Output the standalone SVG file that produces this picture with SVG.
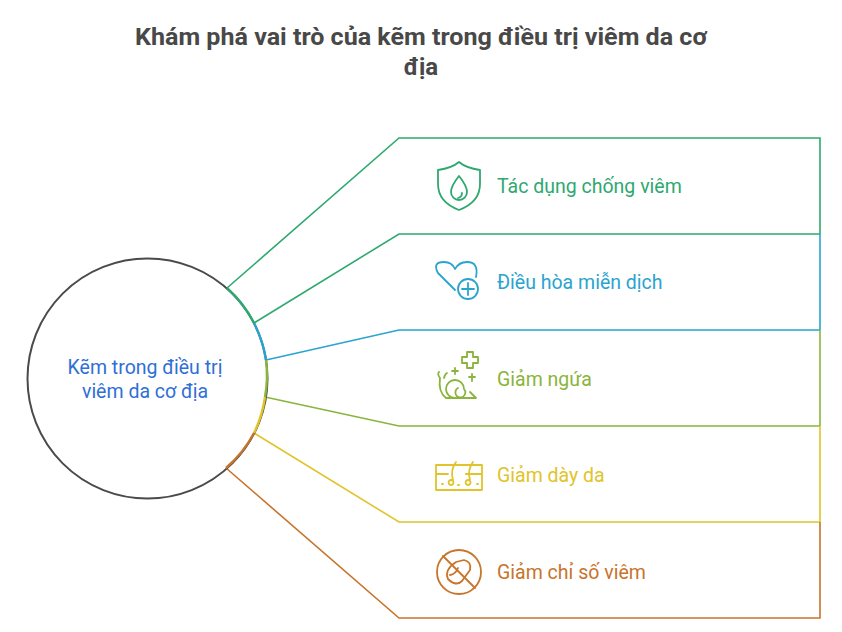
<svg xmlns="http://www.w3.org/2000/svg" width="842" height="632" viewBox="0 0 842 632">
<style>
text{font-family:Roboto,"Liberation Sans",sans-serif}
.t{font-size:19.5px}
.l{fill:none;stroke-width:1.6}
.a{fill:none;stroke-width:2.4}
.i{fill:none;stroke-width:1.8;stroke-linecap:round;stroke-linejoin:round}
</style>
<rect width="842" height="632" fill="#fff"/>
<text x="421" y="45" text-anchor="middle" font-size="24" font-weight="bold" fill="#484848" textLength="572" lengthAdjust="spacingAndGlyphs">Khám phá vai trò của kẽm trong điều trị viêm da cơ</text>
<text x="421" y="75" text-anchor="middle" font-size="24" font-weight="bold" fill="#484848">địa</text>
<g id="connectors">
<path class="l" stroke="#2fa870" d="M227,288 L399,138 H820 V234"/>
<path class="l" stroke="#2fa870" d="M254,323 L399,234 H820"/>
<path class="l" stroke="#2aa4cf" d="M820,234 V330"/>
<path class="l" stroke="#2aa4cf" d="M266,360 L399,330 H820"/>
<path class="l" stroke="#8ab43c" d="M820,330 V426"/>
<path class="l" stroke="#8ab43c" d="M265,397 L399,426 H820"/>
<path class="l" stroke="#e0c42a" d="M820,426 V522"/>
<path class="l" stroke="#e0c42a" d="M254,433 L399,522 H820"/>
<path class="l" stroke="#c8742b" d="M820,522 V618 H399 L226,468"/>
</g>
<g id="center">
<circle cx="147.5" cy="378.5" r="120" fill="#fff" stroke="#4a4a4a" stroke-width="2"/>
<path class="a" d="M227,288 A120,120 0 0 1 254,323" stroke="#2fa870"/>
<path class="a" d="M254,323 A120,120 0 0 1 266,360" stroke="#2aa4cf"/>
<path class="a" d="M266,360 A120,120 0 0 1 265,397" stroke="#8ab43c"/>
<path class="a" d="M265,397 A120,120 0 0 1 254,433" stroke="#e0c42a"/>
<path class="a" d="M254,433 A120,120 0 0 1 226,468" stroke="#c8742b"/>
<text x="145" y="374" text-anchor="middle" class="t" fill="#2f6fd6">Kẽm trong điều trị</text>
<text x="145" y="398" text-anchor="middle" class="t" fill="#2f6fd6">viêm da cơ địa</text>
</g>
<g id="n1">
<path class="i" stroke="#2fa870" d="M438,170 Q452,168 459,162 Q466,168 480,170 V184 Q480,202 459,210 Q438,202 438,184 Z"/>
<path class="i" stroke="#2fa870" d="M459,176 Q451,186 451,192 A8,8 0 0 0 467,192 Q467,186 459,176 Z M462,193 Q462,197 458,198"/>
<text x="497" y="193" class="t" fill="#2fa870">Tác dụng chống viêm</text>
</g>
<g id="n2">
<path class="i" stroke="#2aa4cf" d="M455,290 L438,273 Q432,262 444,262 Q452,262 455,269 Q459,262 467,262 Q479,262 476,277"/>
<circle class="i" stroke="#2aa4cf" cx="468" cy="289" r="10"/>
<path class="i" stroke="#2aa4cf" d="M468,283 V295 M462,289 H474"/>
<text x="497" y="289" class="t" fill="#2aa4cf">Điều hòa miễn dịch</text>
</g>
<g id="n3">
<path class="i" stroke="#8ab43c" d="M462,357 h5 v-5 h6 v5 h5 v6 h-5 v5 h-6 v-5 h-5 Z M452,371 h6 M455,368 v6 M472,374 v7 M469,377 h6"/>
<path class="i" stroke="#8ab43c" d="M440,378 Q438,392 446,398 H476 L470,392 M455,398 A9,9 0 1 1 464,389 A5,5 0 1 1 458,388 M440,378 Q437,374 439,372 M444,378 Q445,374 447,373"/>
<text x="497" y="386" class="t" fill="#8ab43c">Giảm ngứa</text>
</g>
<g id="n4">
<path class="i" stroke="#e0c42a" d="M436,465 H482 V490 H436 Z M436,474 H448 M466,474 H482"/>
<path class="i" stroke="#e0c42a" d="M453,480 Q450,470 456,462 M470,480 Q467,470 473,462 M451,480 a2.5,2.5 0 1 0 0.1,0 M468,480 a2.5,2.5 0 1 0 0.1,0 M442,484 h1 M458,485 h1 M477,484 h1"/>
<text x="497" y="482" class="t" fill="#e0c42a">Giảm dày da</text>
</g>
<g id="n5">
<circle class="i" stroke="#c8742b" cx="459" cy="572" r="22"/>
<path class="i" stroke="#c8742b" d="M443,556 L475,588 M448,579 Q444,570 456,562 L464,560 Q472,562 470,570 L462,581 Q456,587 448,579 Z M450,575 Q456,574 458,568"/>
<text x="497" y="579" class="t" fill="#c8742b">Giảm chỉ số viêm</text>
</g>
</svg>
